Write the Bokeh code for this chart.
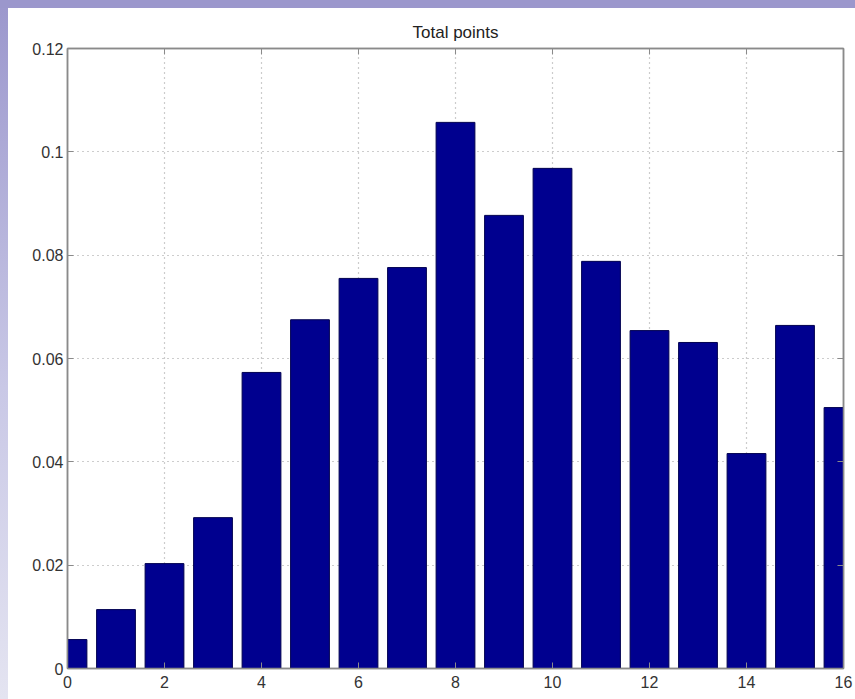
from bokeh.plotting import figure
from bokeh.models import Range1d, FixedTicker, LinearAxis, Title, Div
from bokeh.layouts import column, row
from bokeh.embed import file_html
from bokeh.resources import INLINE

# data
points = list(range(0, 17))
freq = [0.0056, 0.0114, 0.0203, 0.0292, 0.0573, 0.0675, 0.0755, 0.0776,
        0.1057, 0.0877, 0.0968, 0.0788, 0.0654, 0.0631, 0.0416, 0.0664, 0.0505]
x_ticks = [0, 2, 4, 6, 8, 10, 12, 14, 16]
y_ticks = [0, 0.02, 0.04, 0.06, 0.08, 0.1, 0.12]
y_tick_labels = ["0", "0.02", "0.04", "0.06", "0.08", "0.1", "0.12"]
title_text = "Total points"

FONT = "Liberation Sans"
FRAME = "#8a8a8a"

p = figure(width=847, height=691, output_backend="svg", toolbar_location=None,
           x_range=Range1d(0, 16), y_range=Range1d(0, 0.12),
           min_border_left=59, min_border_right=12, min_border_top=40, min_border_bottom=31)
p.title = Title(text=title_text, align="center", text_font=FONT,
                text_font_size="17px", text_font_style="normal", text_color="#222222",
                standoff=14)

p.vbar(x=points, top=freq, width=0.8, fill_color="#00008F", line_color="#000050", line_width=1)

p.background_fill_color = "white"
p.border_fill_color = "white"
p.outline_line_color = FRAME
p.outline_line_width = 1.5

for ax in (p.xaxis[0], p.yaxis[0]):
    ax.major_tick_in = 6
    ax.major_tick_out = 0
    ax.minor_tick_in = 0
    ax.minor_tick_out = 0
    ax.axis_line_color = FRAME
    ax.axis_line_width = 1.5
    ax.major_tick_line_color = FRAME
    ax.major_label_text_font = FONT
    ax.major_label_text_font_size = "16px"
    ax.major_label_text_color = "#333333"

p.xaxis[0].ticker = FixedTicker(ticks=x_ticks)
p.yaxis[0].ticker = FixedTicker(ticks=y_ticks)
p.yaxis[0].major_label_overrides = {t: s for t, s in zip(y_ticks, y_tick_labels)}
p.xaxis[0].major_label_standoff = 7
p.yaxis[0].major_label_standoff = 4

# top and right axes: ticks only
for side, ticks in (("above", x_ticks), ("right", y_ticks)):
    ax = LinearAxis(ticker=FixedTicker(ticks=ticks), major_tick_in=6, major_tick_out=0,
                    minor_tick_in=0, minor_tick_out=0, axis_line_color=FRAME,
                    axis_line_width=1.5, major_tick_line_color=FRAME,
                    major_label_text_color=None, major_label_text_font_size="1px",
                    major_label_standoff=0)
    p.add_layout(ax, side)

p.xgrid.ticker = FixedTicker(ticks=x_ticks)
p.ygrid.ticker = FixedTicker(ticks=y_ticks)
for g in (p.xgrid[0], p.ygrid[0]):
    g.grid_line_color = "#9a9a9a"
    g.grid_line_dash = "1 4"
    g.grid_line_width = 1.2

# slide background strips (top band, left gradient strip)
top_band = Div(text="", width=855, height=8, margin=0,
               styles={"background-color": "#9b97cc"})
left_strip = Div(text="", width=8, height=691, margin=0,
                 styles={"background": "linear-gradient(to bottom, #9c98cd, #c9c8e6 55%, #e4e4f1)"})
layout = column(top_band, row(left_strip, p, spacing=0), spacing=0)

open("out.html", "w").write(file_html(layout, INLINE))
